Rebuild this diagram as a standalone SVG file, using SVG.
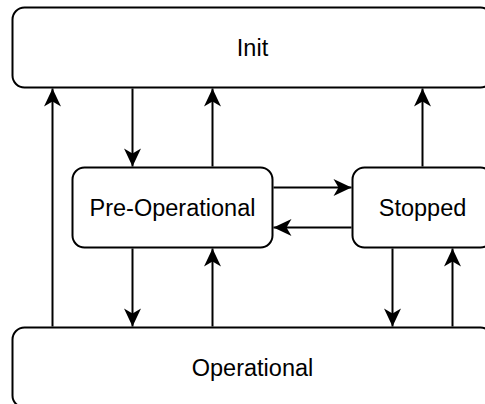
<svg xmlns="http://www.w3.org/2000/svg" width="485" height="404" viewBox="0 0 485 404">
<style>
.box{fill:#fff;stroke:#000;stroke-width:2}
.lbl{font-family:"Liberation Sans",Arial,sans-serif;font-size:23.5px;fill:#000;text-anchor:middle;dominant-baseline:central}
.edge{fill:none;stroke:#000;stroke-width:2}
</style>
<defs>
<marker id="arr" markerUnits="userSpaceOnUse" markerWidth="20" markerHeight="20" viewBox="-19 -10 20 20" refX="0" refY="0" orient="auto">
<path d="M0,0 L-18,-8.5 L-13,0 L-18,8.5 Z" fill="#000" stroke="none"/>
</marker>
</defs>
<g id="init"><rect class="box" x="12.5" y="7.5" width="480" height="80" rx="12"/><text class="lbl" x="252.5" y="47.5">Init</text></g>
<g id="preop"><rect class="box" x="72.5" y="167.5" width="200" height="80" rx="12"/><text class="lbl" x="172.5" y="207.5">Pre-Operational</text></g>
<g id="stopped"><rect class="box" x="352.5" y="167.5" width="140" height="80" rx="12"/><text class="lbl" x="422.5" y="207.5">Stopped</text></g>
<g id="operational"><rect class="box" x="12.5" y="327.5" width="480" height="80" rx="12"/><text class="lbl" x="252.5" y="367.5">Operational</text></g>
<g id="connectors">
<path class="edge" d="M132.5,88.5 V166.5" marker-end="url(#arr)"/>
<path class="edge" d="M212.5,166.5 V88.5" marker-end="url(#arr)"/>
<path class="edge" d="M52.5,326.5 V88.5" marker-end="url(#arr)"/>
<path class="edge" d="M422.5,166.5 V88.5" marker-end="url(#arr)"/>
<path class="edge" d="M273.5,187.5 H351.5" marker-end="url(#arr)"/>
<path class="edge" d="M351.5,227.5 H273.5" marker-end="url(#arr)"/>
<path class="edge" d="M132.5,248.5 V326.5" marker-end="url(#arr)"/>
<path class="edge" d="M212.5,326.5 V248.5" marker-end="url(#arr)"/>
<path class="edge" d="M392.5,248.5 V326.5" marker-end="url(#arr)"/>
<path class="edge" d="M452.5,326.5 V248.5" marker-end="url(#arr)"/>
</g>
</svg>
